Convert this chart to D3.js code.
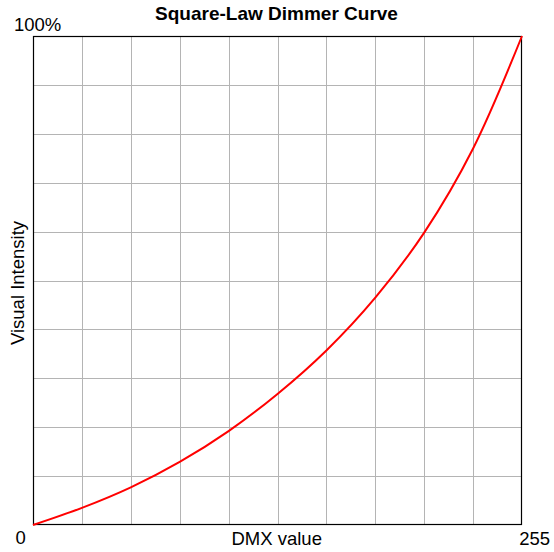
<!DOCTYPE html>
<html>
<head>
<meta charset="utf-8">
<script src="https://cdn.jsdelivr.net/npm/d3@7/dist/d3.min.js"></script>
<style>
  html, body { margin: 0; padding: 0; background: #fff; }
  svg { display: block; }
  text { font-family: "Liberation Sans", Arial, Helvetica, sans-serif; fill: #000; }
</style>
</head>
<body>
<svg id="chart" width="554" height="552"></svg>
<script>
// DMX input values (0-255)
const dmxValues = [0, 25.5, 51, 76.5, 102, 127.5, 153, 178.5, 204, 229.5, 255];
// Visual intensity (%)
const intensityValues = [0, 3.5, 7.7, 12.9, 19.2, 26.8, 35.7, 46.5, 59.8, 77.0, 100];
const titleText = "Square-Law Dimmer Curve";
const xLabel = "DMX value";
const yLabel = "Visual Intensity";
const xTickLabels = ["0", "255"];
const yTickLabels = ["100%"];

const svg = d3.select("#chart");
const mLeft = 33, mTop = 36, mRight = 522, mBottom = 525;

const x = d3.scaleLinear().domain([0, 255]).range([mLeft, mRight]);
const y = d3.scaleLinear().domain([0, 100]).range([mBottom, mTop]);

// grid
const gx = d3.range(1, 10).map(i => i * 25.5);
const gy = d3.range(1, 10).map(i => i * 10);
svg.append("g").selectAll("line").data(gx).join("line")
  .attr("x1", d => Math.round(x(d)) + 0.5).attr("x2", d => Math.round(x(d)) + 0.5)
  .attr("y1", mTop).attr("y2", mBottom)
  .attr("stroke", "#b4b4b4").attr("stroke-width", 1);
svg.append("g").selectAll("line").data(gy).join("line")
  .attr("y1", d => Math.round(y(d)) + 0.5).attr("y2", d => Math.round(y(d)) + 0.5)
  .attr("x1", mLeft).attr("x2", mRight)
  .attr("stroke", "#b4b4b4").attr("stroke-width", 1);

// frame
svg.append("rect")
  .attr("x", mLeft + 0.5).attr("y", mTop + 0.5)
  .attr("width", mRight - mLeft - 1).attr("height", mBottom - mTop - 1)
  .attr("fill", "none").attr("stroke", "#000").attr("stroke-width", 1.2);

// curve
const data = dmxValues.map((d, i) => [d, intensityValues[i]]);
svg.append("path")
  .datum(data)
  .attr("fill", "none")
  .attr("stroke", "#ff0000")
  .attr("stroke-width", 2)
  .attr("d", d3.line().x(d => x(d[0])).y(d => y(d[1])).curve(d3.curveCatmullRom.alpha(0.5)));

// texts
svg.append("text").attr("x", 276.5).attr("y", 20)
  .attr("text-anchor", "middle").attr("font-weight", "bold").attr("font-size", 19)
  .text(titleText);
svg.append("text").attr("x", 14).attr("y", 31)
  .attr("font-size", 18.5).text(yTickLabels[0]);
svg.append("text").attr("x", 20.7).attr("y", 544)
  .attr("text-anchor", "middle").attr("font-size", 18.5).text(xTickLabels[0]);
svg.append("text").attr("x", 550).attr("y", 545)
  .attr("text-anchor", "end").attr("font-size", 18.5).text(xTickLabels[1]);
svg.append("text").attr("x", 276.7).attr("y", 545)
  .attr("text-anchor", "middle").attr("font-size", 18.5).text(xLabel);
svg.append("text")
  .attr("transform", "translate(23.5,283) rotate(-90)")
  .attr("text-anchor", "middle").attr("font-size", 18.5).text(yLabel);
</script>
</body>
</html>
